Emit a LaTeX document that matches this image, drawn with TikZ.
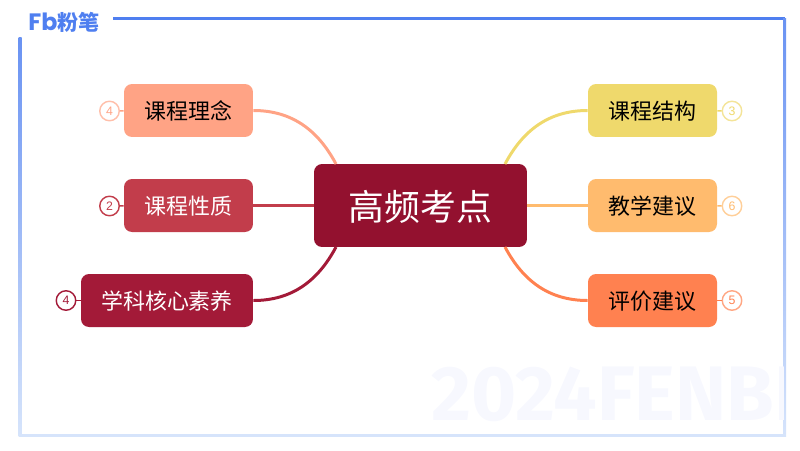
\documentclass[tikz,border=0pt]{standalone}
\usepackage{fontspec}
\setmainfont{Noto Sans CJK SC}
\newfontfamily\numfont{Liberation Sans}
\newfontfamily\logofont{Poppins}
\newfontfamily\markfont{Fira Sans}
\usepackage{tikz}
\usetikzlibrary{positioning}

\definecolor{frameblue}{HTML}{4F7FF0}
\definecolor{framepale}{HTML}{D6E4FB}
\definecolor{markgray}{HTML}{F7F8FE}
\definecolor{rootred}{HTML}{93112F}
\definecolor{peach}{HTML}{FFA385}
\definecolor{rose}{HTML}{C23D4B}
\definecolor{wine}{HTML}{A31A38}
\definecolor{straw}{HTML}{EFD96C}
\definecolor{apricot}{HTML}{FFBB6E}
\definecolor{coral}{HTML}{FF8150}

\tikzset{
	topicbox/.style={rounded corners=0.16cm, minimum height=1.06cm, inner sep=0pt,
		text height=11.7pt, text depth=1.5pt, font=\fontsize{12.5}{14}\selectfont},
	link/.style={line width=1.7pt},
	badge/.style={circle, draw, fill=white, line width=0.8pt, minimum size=0.39cm, inner sep=0pt,
		font=\numfont\fontsize{7}{8}\selectfont},
	tick/.style={line width=0.8pt},
}

\begin{document}
\begin{tikzpicture}[x=0.02cm,y=-0.02cm]
	  \useasboundingbox (0,0) rectangle (800,450);
	  % Draw the frame
	  \fill[frameblue] (113,17) rectangle (785,20);
	  \shade[top color=frameblue!85!white, bottom color=framepale] (18.5,37) rectangle (21.5,436);
	  \shade[top color=frameblue!85!white, bottom color=framepale] (783,18) rectangle (786,436);
	  \fill[framepale] (18.5,433.5) rectangle (786,436.5);
	  % Draw the watermark
	  \begin{scope}
	  \clip (400,340) rectangle (783,433);
	  \node (mark) [anchor=west, inner sep=0pt, text=markgray, font=\markfont\bfseries\fontsize{44}{46}\selectfont]
	      at (431,394) {2024FENBI};
	  \end{scope}
	  % Draw the logo
	  \node (logoa) [anchor=west, inner sep=0pt, text=frameblue, font=\logofont\bfseries\fontsize{13.5}{15}\selectfont]
	      at (28,22) {Fb};
	  \node (logob) [anchor=west, inner sep=0pt, text=frameblue, font=\bfseries\fontsize{12}{14}\selectfont]
	      at (57,22) {粉笔};
	  % Draw the middle and the topics
	  \node (root) [topicbox, fill=rootred, text=white, minimum width=4.26cm, minimum height=1.66cm,
	      text height=18.5pt, text depth=2pt, font=\fontsize{20.4}{24}\selectfont] at (420.5,205.5) {高频考点};
	  \node (linian) [topicbox, fill=peach, minimum width=2.58cm] at (188.5,110.5) {课程理念};
	  \node (xingzhi) [topicbox, fill=rose, text=white, minimum width=2.58cm] at (188.5,205.5) {课程性质};
	  \node (suyang) [topicbox, fill=wine, text=white, minimum width=3.44cm] at (167,300.5) {学科核心素养};
	  \node (jiegou) [topicbox, fill=straw, minimum width=2.58cm] at (652.5,110.5) {课程结构};
	  \node (jianyi) [topicbox, fill=apricot, minimum width=2.58cm] at (652.5,205.5) {教学建议};
	  \node (pingjia) [topicbox, fill=coral, minimum width=2.58cm] at (652.5,300.5) {评价建议};
	  % Draw the counts
	  \node (numa) [badge, draw=peach!70!white, text=peach] at (109.5,111) {4};
	  \node (numb) [badge, draw=rose, text=rose] at (109.5,206) {2};
	  \node (numc) [badge, draw=wine, text=wine] at (66,300.5) {4};
	  \node (numd) [badge, draw=straw!70!white, text=straw] at (732,111) {3};
	  \node (nume) [badge, draw=apricot!70!white, text=apricot] at (732,206) {6};
	  \node (numf) [badge, draw=coral!70!white, text=coral] at (732,300.5) {5};
	  % Draw the connectors
	  \coordinate (rootnw) at (336,164);
	  \coordinate (rootsw) at (336,247);
	  \coordinate (rootne) at (505,164);
	  \coordinate (rootse) at (505,247);
	  \draw [link, peach] (linian.east) to[out=0,in=118] (rootnw);
	  \draw [link, rose] (xingzhi.east) -- (root.west |- xingzhi.east);
	  \draw [link, wine] (suyang.east) to[out=0,in=-118] (rootsw);
	  \draw [link, straw] (jiegou.west) to[out=180,in=62] (rootne);
	  \draw [link, apricot] (jianyi.west) -- (root.east |- jianyi.west);
	  \draw [link, coral] (pingjia.west) to[out=180,in=-62] (rootse);
	  \draw [tick, peach] (numa) -- (linian);
	  \draw [tick, rose] (numb) -- (xingzhi);
	  \draw [tick, wine] (numc) -- (suyang);
	  \draw [tick, straw] (numd) -- (jiegou);
	  \draw [tick, apricot] (nume) -- (jianyi);
	  \draw [tick, coral] (numf) -- (pingjia);
\end{tikzpicture}
\end{document}
